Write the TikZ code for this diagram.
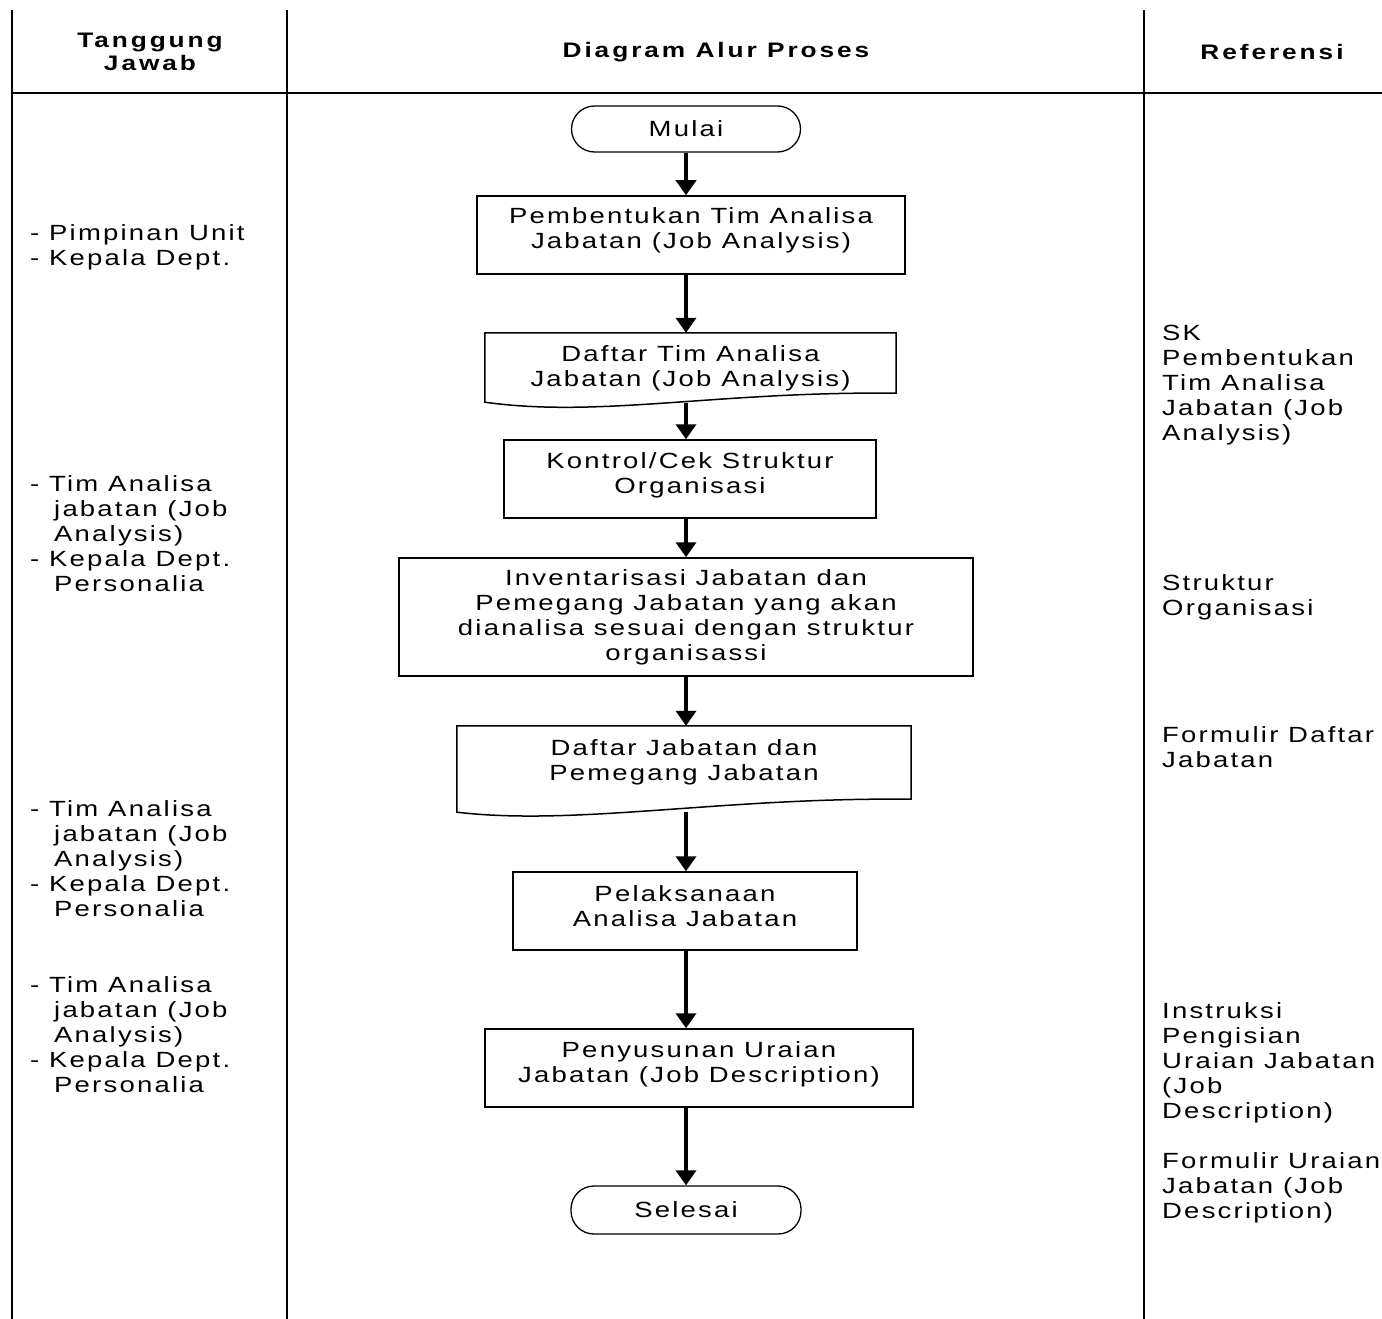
\documentclass[tikz,border=0pt]{standalone}
\usepackage{fontspec}
\setmainfont{Liberation Sans}[FakeStretch=1.25,LetterSpace=10,BoldFeatures={LetterSpace=14}]
\usepackage{tikz}
\usetikzlibrary{arrows.meta}
\usetikzlibrary{positioning}

% penyangga tinggi/dalam baris teks
\newcommand{\turun}[1]{\rule[-#1]{0pt}{#1}}
\newcommand{\tinggi}[1]{\rule{0pt}{#1}}
\newcommand{\inden}{\hspace*{24pt}}

\tikzset{
  proses/.style={draw, line width=1.5pt, align=center, inner sep=0pt},
  terminal/.style={draw, line width=1.3pt, rounded corners=23pt, align=center, inner sep=0pt},
  dokumen/.style={align=center, inner sep=0pt},
  alir/.style={line width=3.6pt, -{Triangle[width=20pt,length=15pt]}},
  garis/.style={line width=1.4pt},
  kolom/.style={anchor=north west, align=left, inner sep=0pt},
  judul/.style={font=\bfseries\fontsize{21}{23}\selectfont, align=center, inner sep=0pt},
}

\begin{document}
\begin{tikzpicture}[x=1pt, y=-1pt, font=\fontsize{22}{25}\selectfont]
  \useasboundingbox (0,0) rectangle (1382,1319);

  % tabel
  \draw[garis] (12,10) -- (12,1319);
  \draw[garis] (287,10) -- (287,1319);
  \draw[garis] (1144,10) -- (1144,1319);
  \draw[garis] (12,93) -- (1382,93);

  \node[judul] (hTanggung) at (150,52) {Tanggung\\Jawab};
  \node[judul] (hDiagram) at (716,52) {Diagram Alur Proses};
  \node[judul] (hReferensi) at (1272,52) {Referensi};

  % diagram alur
  \node[terminal, minimum width=229pt, minimum height=46pt] (mulai) at (686,129) {Mulai};
  \node[proses, minimum width=428pt, minimum height=78pt] (pembentukan) at (691,235)
    {Pembentukan Tim Analisa\\Jabatan (Job Analysis)\turun{13pt}};
  \node[dokumen, minimum width=411pt, minimum height=60pt] (daftarTim) at (690.5,363)
    {\tinggi{26pt}Daftar Tim Analisa\\Jabatan (Job Analysis)};
  \node[proses, minimum width=372pt, minimum height=78pt] (kontrol) at (690,479)
    {Kontrol/Cek Struktur\\Organisasi\turun{11pt}};
  \node[proses, minimum width=574pt, minimum height=118pt] (inventaris) at (686,617)
    {Inventarisasi Jabatan dan\\Pemegang Jabatan yang akan\\dianalisa sesuai dengan struktur\\organisassi};
  \node[dokumen, minimum width=454pt, minimum height=73pt] (daftarJabatan) at (684,762.5)
    {Daftar Jabatan dan\\Pemegang Jabatan};
  \node[proses, minimum width=344pt, minimum height=78pt] (pelaksanaan) at (685,911)
    {Pelaksanaan\\Analisa Jabatan\turun{10pt}};
  \node[proses, minimum width=428pt, minimum height=78pt] (penyusunan) at (699,1068)
    {Penyusunan Uraian\\Jabatan (Job Description)\turun{11pt}};
  \node[terminal, minimum width=230pt, minimum height=48pt] (selesai) at (686,1210) {Selesai};

  % bentuk dokumen
  \draw[line width=1.5pt] (daftarTim.north west) -- (daftarTim.north east) -- (daftarTim.south east)
    .. controls +(-180,-2) and +(115,16) .. ([yshift=-9pt]daftarTim.south west) -- cycle;
  \draw[line width=1.5pt] (daftarJabatan.north west) -- (daftarJabatan.north east) -- (daftarJabatan.south east)
    .. controls +(-190,-2) and +(120,14) .. ([yshift=-13pt]daftarJabatan.south west) -- cycle;

  % panah
  \draw[alir] (mulai.south) -- (mulai.south |- pembentukan.north);
  \draw[alir] (mulai.south |- pembentukan.south) -- (mulai.south |- daftarTim.north);
  \draw[alir] ([yshift=-10pt]mulai.south |- daftarTim.south) -- (mulai.south |- kontrol.north);
  \draw[alir] (mulai.south |- kontrol.south) -- (mulai.south |- inventaris.north);
  \draw[alir] (mulai.south |- inventaris.south) -- (mulai.south |- daftarJabatan.north);
  \draw[alir] ([yshift=-13pt]mulai.south |- daftarJabatan.south) -- (mulai.south |- pelaksanaan.north);
  \draw[alir] (mulai.south |- pelaksanaan.south) -- (mulai.south |- penyusunan.north);
  \draw[alir] (mulai.south |- penyusunan.south) -- (selesai.north);

  % tanggung jawab
  \node[kolom] (tjPimpinan) at (30,224) {- Pimpinan Unit\\- Kepala Dept.};
  \node[kolom] (tjTim1) at (30,475)
    {- Tim Analisa\\\inden jabatan (Job\\\inden Analysis)\\- Kepala Dept.\\\inden Personalia};
  \node[kolom] (tjTim2) at (30,800)
    {- Tim Analisa\\\inden jabatan (Job\\\inden Analysis)\\- Kepala Dept.\\\inden Personalia};
  \node[kolom] (tjTim3) at (30,976)
    {- Tim Analisa\\\inden jabatan (Job\\\inden Analysis)\\- Kepala Dept.\\\inden Personalia};

  % referensi
  \node[kolom] (refSK) at (1162,325) {SK\\Pembentukan\\Tim Analisa\\Jabatan (Job\\Analysis)};
  \node[kolom] (refStruktur) at (1162,574) {Struktur\\Organisasi};
  \node[kolom] (refFormDaftar) at (1162,726) {Formulir Daftar\\Jabatan};
  \node[kolom] (refInstruksi) at (1162,1002) {Instruksi\\Pengisian\\Uraian Jabatan\\(Job\\Description)};
  \node[kolom] (refFormUraian) at (1162,1152) {Formulir Uraian\\Jabatan (Job\\Description)};
\end{tikzpicture}
\end{document}
